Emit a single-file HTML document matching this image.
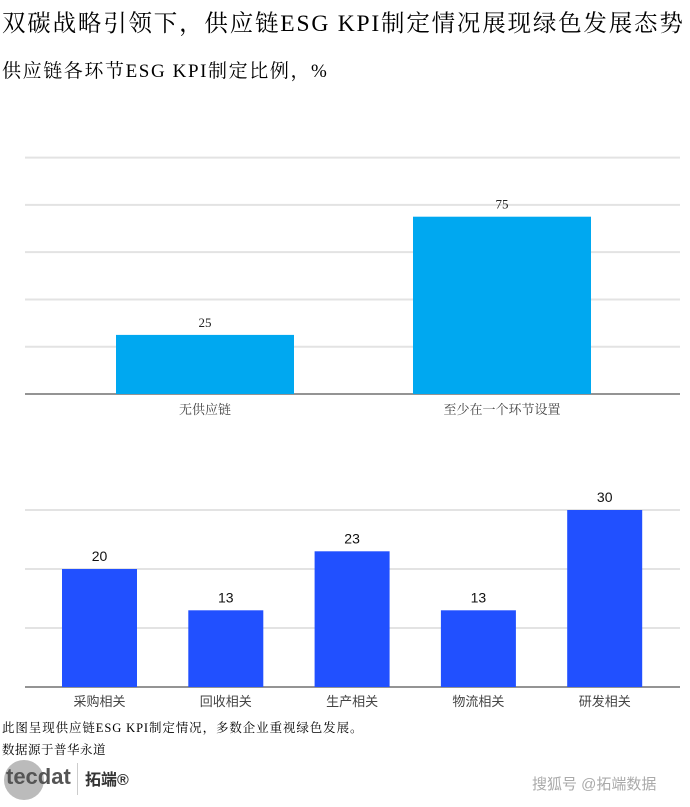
<!DOCTYPE html>
<html><head><meta charset="utf-8">
<style>
body{margin:0;background:#fff;width:690px;height:807px;overflow:hidden;font-family:"Liberation Serif","Noto Serif CJK SC",serif;}
.t{position:absolute;left:2px;white-space:nowrap;color:#000;}
</style></head>
<body>
<div class="t" style="top:4px;font-size:23.5px;letter-spacing:1.8px;">双碳战略引领下，供应链ESG KPI制定情况展现绿色发展态势</div>
<div class="t" style="top:56px;font-size:19px;letter-spacing:1.6px;">供应链各环节ESG KPI制定比例，%</div>
<svg id="chart" width="690" height="807" style="position:absolute;left:0;top:0"></svg>
<div class="t" style="top:718px;font-size:12.5px;letter-spacing:0.9px;">此图呈现供应链ESG KPI制定情况，多数企业重视绿色发展。</div>
<div class="t" style="top:740px;font-size:12.5px;letter-spacing:0.5px;">数据源于普华永道</div>
<div style="position:absolute;left:4px;top:760px;width:40px;height:40px;border-radius:50%;background:#bbb;"></div>
<div style="position:absolute;left:6px;top:764px;font:bold 22px 'Liberation Sans',sans-serif;color:#555;">tecdat</div>
<div style="position:absolute;left:77px;top:763px;width:1px;height:32px;background:#ccc;"></div>
<div style="position:absolute;left:85px;top:766px;font:bold 16px 'Liberation Sans','Noto Sans CJK SC',sans-serif;color:#333;">拓端®</div>
<div style="position:absolute;left:532px;top:773px;font:15px 'Liberation Sans','Noto Sans CJK SC',sans-serif;color:#aaa;">搜狐号 @拓端数据</div>
<script>
const topCats=["无供应链","至少在一个环节设置"];
const topVals=[25,75];
const topTicks=[0,20,40,60,80,100];
const botCats=["采购相关","回收相关","生产相关","物流相关","研发相关"];
const botVals=[20,13,23,13,30];
const botTicks=[0,10,20,30];
const svg=document.getElementById('chart');
const NS="http://www.w3.org/2000/svg";
function mk(tag,attrs,name){const e=document.createElementNS(NS,tag);for(const k in attrs)e.setAttribute(k,attrs[k]);


svg.appendChild(e);return e;}
const tY=v=>394-v*2.364;
topTicks.forEach(t=>{if(t>0)mk('line',{x1:25,x2:680,y1:tY(t),y2:tY(t),stroke:'#e3e3e3','stroke-width':2},'gridline-top');});
mk('line',{x1:25,x2:680,y1:394,y2:394,stroke:'#555','stroke-width':1.2},'x-axis-top');
const tBand=297,tW=178;
topVals.forEach((v,i)=>{const x=116+i*tBand;
mk('rect',{x:x,y:tY(v),width:tW,height:394-tY(v),fill:'#00a8f0'},'bar-top-'+(i+1));
const l=mk('text',{x:x+tW/2,y:tY(v)-8,'text-anchor':'middle','font-size':13,fill:'#222','font-family':'Liberation Serif,serif'},'value-label-top');l.textContent=v;
const c=mk('text',{x:x+tW/2,y:414,'text-anchor':'middle','font-size':13,fill:'#444','font-family':'Liberation Serif,Noto Serif CJK SC,serif'},'category-label-top');c.textContent=topCats[i];});
const bY=v=>687-v*5.9;
botTicks.forEach(t=>{if(t>0)mk('line',{x1:25,x2:680,y1:bY(t),y2:bY(t),stroke:'#e3e3e3','stroke-width':2},'gridline-bottom');});
mk('line',{x1:25,x2:680,y1:687,y2:687,stroke:'#555','stroke-width':1.2},'x-axis-bottom');
botVals.forEach((v,i)=>{const x=62+i*126.3,w=75;
mk('rect',{x:x,y:bY(v),width:w,height:687-bY(v),fill:'#2150ff'},'bar-bottom-'+(i+1));
const l=mk('text',{x:x+w/2,y:bY(v)-8,'text-anchor':'middle','font-size':14,fill:'#111','font-family':'Liberation Sans,sans-serif'},'value-label-bottom');l.textContent=v;
const c=mk('text',{x:x+w/2,y:706,'text-anchor':'middle','font-size':13,fill:'#444','font-family':'Liberation Sans,Noto Sans CJK SC,sans-serif'},'category-label-bottom');c.textContent=botCats[i];});
</script>
</body></html>
